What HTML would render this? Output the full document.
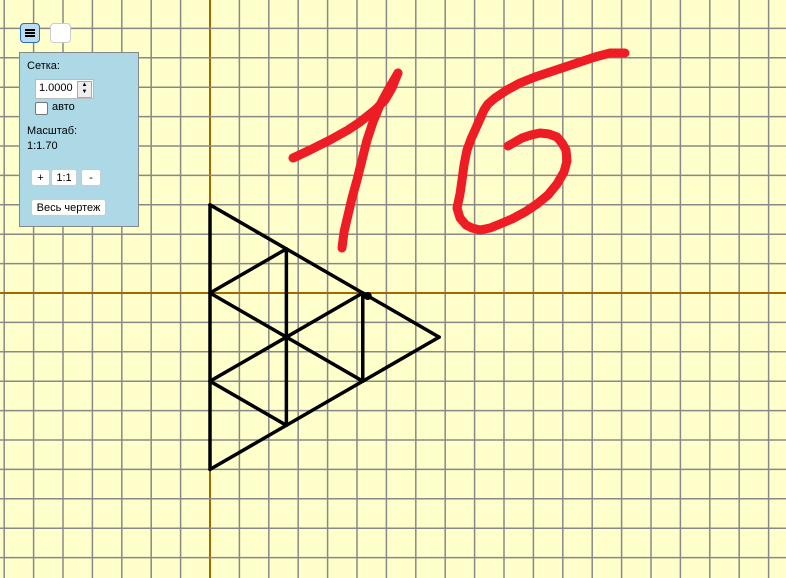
<!DOCTYPE html>
<html><head><meta charset="utf-8">
<style>
html,body{margin:0;padding:0;width:786px;height:578px;overflow:hidden;background:#ffffcc;font-family:"Liberation Sans",sans-serif;}
#wrap{position:relative;width:786px;height:578px;}
svg{position:absolute;left:0;top:0;}
.btn{position:absolute;background:#fff;border:1px solid #ccc;border-radius:3px;font-size:11px;text-align:center;line-height:16px;color:#000;}
#panel{position:absolute;left:19px;top:52px;width:118px;height:173px;background:#add8e6;border:1px solid #888;font-size:11px;color:#000;}
#panel .t{position:absolute;left:7px;}
</style></head><body>
<div id="wrap">
<svg id="cv" width="786" height="578"></svg>
<div class="btn" style="left:20px;top:23px;width:18px;height:18px;background:#bcdcf3;border-color:#2a6db0;border-radius:4px;">
<div style="position:absolute;left:4px;top:5px;width:10px;height:2px;background:#000;box-shadow:0 3px 0 #000,0 6px 0 #000;"></div></div>
<div class="btn" style="left:50px;top:23px;width:19px;height:18px;border-radius:4px;"></div>
<div id="panel">
<div class="t" style="top:7px;">Сетка:</div>
<div style="position:absolute;left:15px;top:26px;width:57px;height:18px;background:#fff;border:1px solid #bbb;">
<span style="position:absolute;left:3px;top:2px;font-size:11px;">1.0000</span>
<div style="position:absolute;right:1px;top:1px;width:13px;height:15px;background:#eee;border:1px solid #aaa;font-size:6px;line-height:7px;text-align:center;">▲<br>▼</div></div>
<div style="position:absolute;left:15px;top:49px;width:11px;height:11px;background:#fff;border:1px solid #777;border-radius:2px;"></div>
<div class="t" style="left:32px;top:48px;">авто</div>
<div class="t" style="top:72px;">Масштаб:</div>
<div class="t" style="top:87px;">1:1.70</div>
<div class="btn" style="left:11px;top:116px;width:17px;height:15px;">+</div>
<div class="btn" style="left:31px;top:116px;width:24px;height:15px;">1:1</div>
<div class="btn" style="left:61px;top:116px;width:18px;height:15px;">-</div>
<div class="btn" style="left:11px;top:146px;width:73px;height:15px;">Весь чертеж</div>
</div>
</div>
<script>
const originX = 210, originY = 293, unit = 29.4;
const pointNames = ["A","B","C","D","E","F","G","H","I","J"];
const pointX = [0,0,0,0,2.598,2.598,2.598,5.196,5.196,7.794];
const pointY = [3,0,-3,-6,1.5,-1.5,-4.5,0,-3,-1.5];
const segFrom = ["A","A","D","E","H","B","B","C","C"];
const segTo   = ["D","J","J","G","I","E","I","H","G"];
const stroke1aX = [293,310,330,348,360,375,385,392,398];
const stroke1aY = [158,150,140,130,122,110,100,88,73];
const stroke1bX = [398,388,380,373,367,362,357,352,348,344,342];
const stroke1bY = [73,90,105,122,140,160,180,198,215,232,248];
const stroke6X = [625,610,595,580,565,550,535,520,507,495,488,484,480,476,471,467,464,462,460,457,460,466,472,480,490,500,512,525,537,548,557,564,567,566,562,557,549,540,531,522,515,508];
const stroke6Y = [53,53,57,62,67,72,77,83,90,98,104,110,119,128,139,150,165,180,194,208,218,225,228,230,228,224,219,212,204,195,184,172,161,150,143,137,134,133,135,138,142,146];
const sx = u => originX + u*unit, sy = v => originY - v*unit;
const NS="http://www.w3.org/2000/svg", svg=document.getElementById('cv');
function mk(t,a){const e=document.createElementNS(NS,t);for(const k in a)e.setAttribute(k,a[k]);svg.appendChild(e);return e;}
for(let k=-8;k<=20;k++){const x=sx(k);if(x<0||x>786)continue;
 const l=mk('line',{x1:x,y1:0,x2:x,y2:578,stroke:k==0?'#a06a00':'#888','stroke-width':k==0?2:1.5});
 
 }
for(let k=-10;k<=10;k++){const y=sy(k);if(y<0||y>578)continue;
 const l=mk('line',{x1:0,y1:y,x2:786,y2:y,stroke:k==0?'#a06a00':'#888','stroke-width':k==0?2:1.5});
 
 }
segFrom.forEach((f,i)=>{const a=pointNames.indexOf(f),b=pointNames.indexOf(segTo[i]);
 const l=mk('line',{x1:sx(pointX[a]),y1:sy(pointY[a]),x2:sx(pointX[b]),y2:sy(pointY[b]),stroke:'#000','stroke-width':3.5,'stroke-linecap':'round'});
 
 });
const hi=pointNames.indexOf("H");
const dot=mk('circle',{cx:sx(pointX[hi])+5,cy:sy(pointY[hi])+3,r:4,fill:'#000'});


function poly(xs,ys,name){const p=mk('polyline',{points:xs.map((x,i)=>x+','+ys[i]).join(' '),fill:'none',stroke:'#ee1c25','stroke-width':9,'stroke-linecap':'round','stroke-linejoin':'round'});
 
 }
poly(stroke1aX,stroke1aY,'freehand-one-top');
poly(stroke1bX,stroke1bY,'freehand-one-stem');
poly(stroke6X,stroke6Y,'freehand-six');
</script>
</body></html>
